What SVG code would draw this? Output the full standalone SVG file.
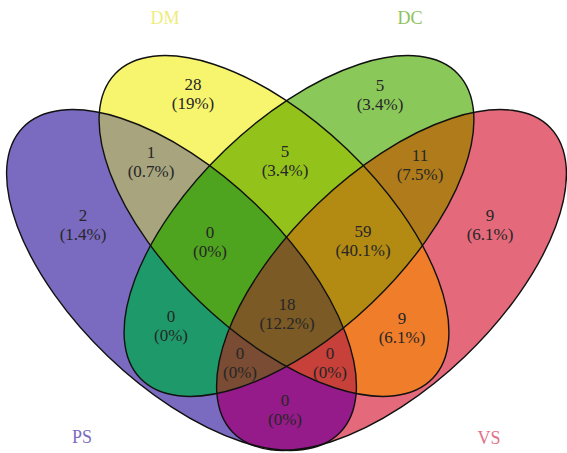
<svg xmlns="http://www.w3.org/2000/svg" xmlns:xlink="http://www.w3.org/1999/xlink" width="567" height="453" viewBox="0 0 567 453">
<style>
.n{font-family:"Liberation Serif","Times New Roman",serif;font-size:17px;fill:#262626;text-anchor:middle}
.c{font-family:"Liberation Serif","Times New Roman",serif;font-size:18px;text-anchor:middle}
.o{fill:none;stroke:#111;stroke-width:1.4}
</style>
<defs>
<ellipse id="ePS" cx="181.5" cy="280" rx="220" ry="106" transform="rotate(43.8 181.5 280)"/>
<ellipse id="eDM" cx="274" cy="226" rx="220" ry="106" transform="rotate(43.8 274 226)"/>
<ellipse id="eDC" cx="299" cy="226" rx="220" ry="106" transform="rotate(-43.8 299 226)"/>
<ellipse id="eVS" cx="391.5" cy="280" rx="220" ry="106" transform="rotate(-43.8 391.5 280)"/>
<clipPath id="cPS"><use href="#ePS"/></clipPath>
<clipPath id="cDM"><use href="#eDM"/></clipPath>
<clipPath id="cDC"><use href="#eDC"/></clipPath>
<clipPath id="cVS"><use href="#eVS"/></clipPath>
</defs>
<rect width="567" height="453" fill="#fff"/>
<g id="regions">
<use href="#ePS" fill="#7b6bc0"/>
<use href="#eDM" fill="#f7f46e"/>
<use href="#eDC" fill="#8bc85a"/>
<use href="#eVS" fill="#e4697b"/>
<g clip-path="url(#cPS)"><use href="#eDM" fill="#a7a47e"/></g>
<g clip-path="url(#cPS)"><use href="#eDC" fill="#1e9a6a"/></g>
<g clip-path="url(#cPS)"><use href="#eVS" fill="#951a8a"/></g>
<g clip-path="url(#cDM)"><use href="#eDC" fill="#93c21a"/></g>
<g clip-path="url(#cDM)"><use href="#eVS" fill="#f07d2a"/></g>
<g clip-path="url(#cDC)"><use href="#eVS" fill="#b07b1a"/></g>
<g clip-path="url(#cPS)"><g clip-path="url(#cDM)"><use href="#eDC" fill="#4ea41e"/></g></g>
<g clip-path="url(#cPS)"><g clip-path="url(#cDM)"><use href="#eVS" fill="#c8403a"/></g></g>
<g clip-path="url(#cPS)"><g clip-path="url(#cDC)"><use href="#eVS" fill="#7a4c33"/></g></g>
<g clip-path="url(#cDM)"><g clip-path="url(#cDC)"><use href="#eVS" fill="#b38a12"/></g></g>
<g clip-path="url(#cPS)"><g clip-path="url(#cDM)"><g clip-path="url(#cDC)"><use href="#eVS" fill="#7b5a25"/></g></g></g>
</g>
<g id="outlines">
<g id="PS"><use href="#ePS" class="o"/></g>
<g id="DM"><use href="#eDM" class="o"/></g>
<g id="DC"><use href="#eDC" class="o"/></g>
<g id="VS"><use href="#eVS" class="o"/></g>
</g>
<g id="counts">
<text class="n" x="193" y="90">28<tspan x="193" dy="19">(19%)</tspan></text>
<text class="n" x="380" y="91">5<tspan x="380" dy="19">(3.4%)</tspan></text>
<text class="n" x="151" y="158">1<tspan x="151" dy="19">(0.7%)</tspan></text>
<text class="n" x="285" y="157">5<tspan x="285" dy="19">(3.4%)</tspan></text>
<text class="n" x="420" y="161">11<tspan x="420" dy="19">(7.5%)</tspan></text>
<text class="n" x="83" y="221">2<tspan x="83" dy="19">(1.4%)</tspan></text>
<text class="n" x="490" y="221">9<tspan x="490" dy="19">(6.1%)</tspan></text>
<text class="n" x="210" y="238">0<tspan x="210" dy="19">(0%)</tspan></text>
<text class="n" x="363" y="237">59<tspan x="363" dy="19">(40.1%)</tspan></text>
<text class="n" x="171" y="322">0<tspan x="171" dy="19">(0%)</tspan></text>
<text class="n" x="402" y="324">9<tspan x="402" dy="19">(6.1%)</tspan></text>
<text class="n" x="287" y="310">18<tspan x="287" dy="19">(12.2%)</tspan></text>
<text class="n" x="240" y="359">0<tspan x="240" dy="19">(0%)</tspan></text>
<text class="n" x="330" y="359">0<tspan x="330" dy="19">(0%)</tspan></text>
<text class="n" x="285" y="406">0<tspan x="285" dy="19">(0%)</tspan></text>
</g>
<g id="labels">
<text class="c" x="165" y="24" fill="#efec7c">DM</text>
<text class="c" x="410" y="24" fill="#8cc35a">DC</text>
<text class="c" x="82" y="443" fill="#7a6cc0">PS</text>
<text class="c" x="489" y="444" fill="#e2708a">VS</text>
</g>
</svg>
